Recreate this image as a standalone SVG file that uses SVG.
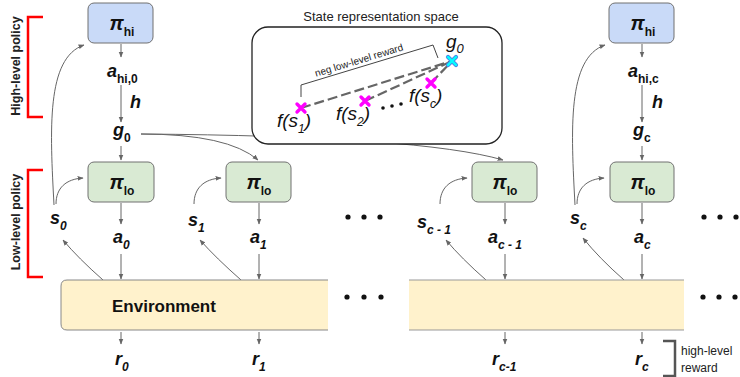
<svg xmlns="http://www.w3.org/2000/svg" width="740" height="377" viewBox="0 0 740 377">
<style>
.v{font-family:"Liberation Sans",Arial,sans-serif;font-weight:bold;font-style:italic;font-size:18px;fill:#111}
.sb{font-size:12px;font-style:normal}
.si{font-size:12px;font-style:italic}
.pi{font-family:"Liberation Sans",Arial,sans-serif;font-weight:bold;font-style:italic;font-size:20px;fill:#111}
.fs{font-family:"Liberation Sans",Arial,sans-serif;font-style:italic;font-size:19px;fill:#111}
.lbl{font-family:"Liberation Sans",Arial,sans-serif;fill:#222}
.hi{fill:#c9daf8;stroke:#707070;stroke-width:1}
.lo{fill:#d9ead3;stroke:#707070;stroke-width:1}
.c{fill:none;stroke:#666;stroke-width:1;marker-end:url(#ah)}
.red{fill:none;stroke:#ff0000;stroke-width:2.5}
.dash{fill:none;stroke:#666;stroke-width:2.2;stroke-dasharray:10 4}
.xm{stroke:#ff00ff;stroke-width:3.4;stroke-linecap:round}
</style>
<defs>
<marker id="ah" viewBox="0 0 10 10" refX="9" refY="5" markerWidth="6" markerHeight="6" orient="auto" markerUnits="userSpaceOnUse"><path d="M0,1 L10,5 L0,9 z" fill="#666"/></marker>
</defs>
<rect width="740" height="377" fill="#fff"/>

<g id="connectors">
<path class="c" d="M121,44 V57"/>
<path class="c" d="M121,85 V122"/>
<path class="c" d="M121,146 V160"/>
<path class="c" d="M121,203 V224"/>
<path class="c" d="M121,254 V279"/>
<path class="c" d="M121,332 V344"/>
<path class="c" d="M259,203 V224"/>
<path class="c" d="M259,254 V279"/>
<path class="c" d="M259,332 V344"/>
<path class="c" d="M505,203 V224"/>
<path class="c" d="M505,254 V279"/>
<path class="c" d="M505,332 V344"/>
<path class="c" d="M642,44 V57"/>
<path class="c" d="M642,85 V122"/>
<path class="c" d="M642,146 V160"/>
<path class="c" d="M642,203 V224"/>
<path class="c" d="M642,254 V279"/>
<path class="c" d="M642,332 V344"/>
<path class="c" d="M54,205 C50,130 46,58 84,45"/>
<path class="c" d="M575,205 C571,130 567,58 605,45"/>
<path class="c" d="M56,204 C56,188 66,179 83,178"/>
<path class="c" d="M194,204 C194,188 204,179 221,178"/>
<path class="c" d="M440,204 C440,188 450,179 467,178"/>
<path class="c" d="M577,204 C577,188 587,179 604,178"/>
<path class="c" d="M103,280 Q78,258 63,240"/>
<path class="c" d="M241,280 Q216,258 200,240"/>
<path class="c" d="M486,280 Q461,258 446,240"/>
<path class="c" d="M624,280 Q599,258 583,238"/>
<path class="c" d="M141,134 Q228,134 258,160"/>
<path class="c" d="M141,134 Q420,136 503,160"/>
</g>

<g id="high-level-bracket">
<path class="red" d="M43,17 H28 V117 H43"/>
<text class="lbl" font-size="12.5" font-weight="bold" text-anchor="middle" transform="translate(20,66) rotate(-90)">High-level policy</text>
</g>
<g id="low-level-bracket">
<path class="red" d="M43,170 H28 V277 H43"/>
<text class="lbl" font-size="12.5" font-weight="bold" text-anchor="middle" transform="translate(20,222) rotate(-90)">Low-level policy</text>
</g>

<g id="pi-hi-0">
<rect class="hi" x="88" y="3" width="65" height="40" rx="6"/>
<text class="pi" x="122" y="30" text-anchor="middle">π<tspan class="sb" dy="6" font-size="13">hi</tspan></text>
</g>
<g id="pi-hi-c">
<rect class="hi" x="609" y="3" width="65" height="40" rx="6"/>
<text class="pi" x="643" y="30" text-anchor="middle">π<tspan class="sb" dy="6" font-size="13">hi</tspan></text>
</g>

<g id="pi-lo-0">
<rect class="lo" x="88" y="162" width="66" height="40" rx="6"/>
<text class="pi" x="122" y="189" text-anchor="middle">π<tspan class="sb" dy="6" font-size="13">lo</tspan></text>
</g>
<g id="pi-lo-1">
<rect class="lo" x="226" y="162" width="65" height="40" rx="6"/>
<text class="pi" x="259" y="189" text-anchor="middle">π<tspan class="sb" dy="6" font-size="13">lo</tspan></text>
</g>
<g id="pi-lo-c1">
<rect class="lo" x="472" y="162" width="65" height="40" rx="6"/>
<text class="pi" x="505" y="189" text-anchor="middle">π<tspan class="sb" dy="6" font-size="13">lo</tspan></text>
</g>
<g id="pi-lo-c">
<rect class="lo" x="610" y="162" width="64" height="40" rx="6"/>
<text class="pi" x="643" y="189" text-anchor="middle">π<tspan class="sb" dy="6" font-size="13">lo</tspan></text>
</g>

<g id="labels-hi">
<text class="v" x="107" y="77">a<tspan class="sb" dy="6">hi,0</tspan></text>
<text class="v" x="130" y="108">h</text>
<text class="v" x="113" y="136">g<tspan class="sb" dy="6">0</tspan></text>
<text class="v" x="628" y="77">a<tspan class="sb" dy="6">hi,c</tspan></text>
<text class="v" x="652" y="108">h</text>
<text class="v" x="633" y="136">g<tspan class="sb" dy="6">c</tspan></text>
</g>

<g id="labels-s">
<text class="v" x="50" y="224">s<tspan class="si" dy="6">0</tspan></text>
<text class="v" x="188" y="226">s<tspan class="si" dy="6">1</tspan></text>
<text class="v" x="417" y="228">s<tspan class="si" dy="6">c - 1</tspan></text>
<text class="v" x="570" y="224">s<tspan class="si" dy="6">c</tspan></text>
</g>

<g id="labels-a">
<text class="v" x="113" y="243">a<tspan class="si" dy="6">0</tspan></text>
<text class="v" x="250" y="243">a<tspan class="si" dy="6">1</tspan></text>
<text class="v" x="488" y="243">a<tspan class="si" dy="6">c - 1</tspan></text>
<text class="v" x="634" y="243">a<tspan class="si" dy="6">c</tspan></text>
</g>

<g id="dots">
<circle cx="348" cy="217" r="2.6" fill="#111"/>
<circle cx="364" cy="217" r="2.6" fill="#111"/>
<circle cx="380" cy="217" r="2.6" fill="#111"/>
<circle cx="704" cy="217" r="2.6" fill="#111"/>
<circle cx="720" cy="217" r="2.6" fill="#111"/>
<circle cx="736" cy="217" r="2.6" fill="#111"/>
<circle cx="347" cy="297" r="2.6" fill="#111"/>
<circle cx="364" cy="297" r="2.6" fill="#111"/>
<circle cx="381" cy="297" r="2.6" fill="#111"/>
<circle cx="703" cy="297" r="2.6" fill="#111"/>
<circle cx="719" cy="297" r="2.6" fill="#111"/>
<circle cx="735" cy="297" r="2.6" fill="#111"/>
</g>

<g id="environment">
<path d="M328,280 H67 Q61,280 61,286 V324 Q61,330 67,330 H328" fill="#fff2cc" stroke="#888" stroke-width="1"/>
<rect x="409" y="280" width="275" height="50" fill="#fff2cc"/>
<path d="M409,280 H684 M409,330 H684" stroke="#999" stroke-width="1"/>
<text x="112" y="312" font-family="Liberation Sans, Arial, sans-serif" font-weight="bold" font-size="17" fill="#111">Environment</text>
</g>

<g id="rewards">
<text class="v" x="115" y="365">r<tspan class="si" dy="6">0</tspan></text>
<text class="v" x="252" y="365">r<tspan class="si" dy="6">1</tspan></text>
<text class="v" x="492" y="365">r<tspan class="si" dy="6">c-1</tspan></text>
<text class="v" x="635" y="365">r<tspan class="si" dy="6">c</tspan></text>
</g>

<g id="high-level-reward">
<path d="M663,341 H675 V376 H663" fill="none" stroke="#555" stroke-width="2.5"/>
<text class="lbl" x="681" y="355" font-size="12">high-level</text>
<text class="lbl" x="681" y="372" font-size="12">reward</text>
</g>

<g id="state-space">
<text class="lbl" x="381" y="21" font-size="13" text-anchor="middle">State representation space</text>
<rect x="252" y="27" width="250" height="117" rx="16" fill="#fff" stroke="#222" stroke-width="1.3"/>
<path d="M301,97 V85 L433,45 L438,58" fill="none" stroke="#444" stroke-width="1"/>
<text class="lbl" x="360" y="63.5" font-size="10" text-anchor="middle" transform="rotate(-16.9 360 63.5)">neg low-level reward</text>
<path class="dash" d="M301,108 L452,61"/>
<path class="dash" d="M365,101 L452,61"/>
<path class="dash" d="M431,83 L452,61"/>
<g class="xm">
<path d="M297,104 L305,112 M305,104 L297,112"/>
<path d="M361,97 L369,105 M369,97 L361,105"/>
<path d="M427,79 L435,87 M435,79 L427,87"/>
</g>
<path d="M448,57 L456,65 M456,57 L448,65" stroke="#4a86e8" stroke-width="4.2" stroke-linecap="round"/>
<path d="M448,57 L456,65 M456,57 L448,65" stroke="#00ffff" stroke-width="2.4" stroke-linecap="round"/>
<text class="fs" x="446" y="48" font-size="20">g<tspan dy="5" font-size="13">0</tspan></text>
<text class="fs" x="277" y="127">f(s<tspan dy="6" font-size="12">1</tspan><tspan dy="-6">)</tspan></text>
<text class="fs" x="336" y="120">f(s<tspan dy="6" font-size="12">2</tspan><tspan dy="-6">)</tspan></text>
<text class="fs" x="409" y="102">f(s<tspan dy="6" font-size="12">c</tspan><tspan dy="-6">)</tspan></text>
<circle cx="383" cy="108" r="1.8" fill="#111"/>
<circle cx="392" cy="106" r="1.8" fill="#111"/>
<circle cx="401" cy="104" r="1.8" fill="#111"/>
</g>
</svg>
